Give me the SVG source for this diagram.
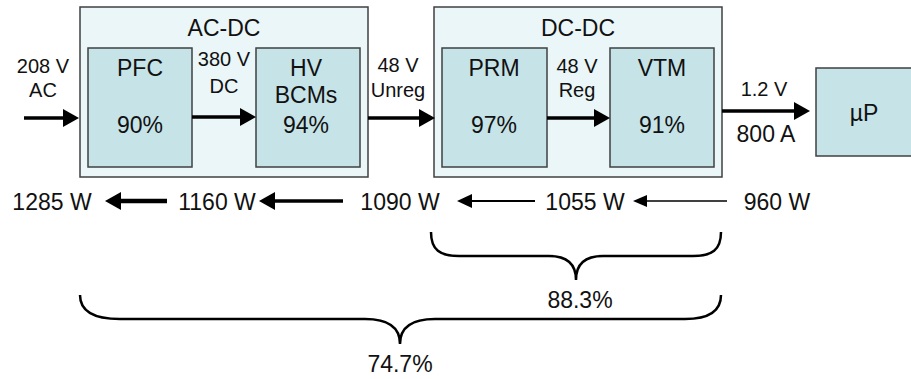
<svg xmlns="http://www.w3.org/2000/svg" width="911" height="379" viewBox="0 0 911 379">
<defs>
<style>
text{font-family:"Liberation Sans",Arial,sans-serif;fill:#111;text-anchor:middle}
.t22{font-size:23px}
.t20{font-size:20px}
.outer{fill:#eaf6f7;stroke:#404040;stroke-width:1.5}
.inner{fill:#c6e3e8;stroke:#404040;stroke-width:1.5}
.ln{stroke:#000;fill:none}
.brace{stroke:#000;fill:none;stroke-width:2.5}
</style>
<marker id="hL" markerUnits="userSpaceOnUse" markerWidth="16" markerHeight="18" refX="0" refY="9" orient="auto"><path d="M0,0 L16,9 L0,18 z" fill="#000"/></marker>
<marker id="hM" markerUnits="userSpaceOnUse" markerWidth="15" markerHeight="14" refX="0" refY="7" orient="auto"><path d="M0,0 L15,7 L0,14 z" fill="#000"/></marker>
<marker id="hS" markerUnits="userSpaceOnUse" markerWidth="14" markerHeight="12" refX="0" refY="6" orient="auto"><path d="M0,0 L14,6 L0,12 z" fill="#000"/></marker>
</defs>
<rect width="911" height="379" fill="#fff"/>

<g id="acdc">
<rect class="outer" x="80" y="7" width="288" height="170"/>
<text class="t22" x="224" y="36">AC-DC</text>
</g>
<g id="dcdc">
<rect class="outer" x="434" y="7" width="288" height="170"/>
<text class="t22" x="578" y="36">DC-DC</text>
</g>
<g id="pfc">
<rect class="inner" x="88" y="48" width="104" height="119"/>
<text class="t22" x="140" y="76">PFC</text>
<text class="t22" x="140" y="133">90%</text>
</g>
<g id="hvbcm">
<rect class="inner" x="256" y="48" width="104" height="119"/>
<text class="t22" x="306" y="76">HV</text>
<text class="t22" x="306" y="103">BCMs</text>
<text class="t22" x="306" y="133">94%</text>
</g>
<g id="prm">
<rect class="inner" x="442" y="48" width="105" height="119"/>
<text class="t22" x="494" y="76">PRM</text>
<text class="t22" x="494" y="133">97%</text>
</g>
<g id="vtm">
<rect class="inner" x="610" y="48" width="104" height="119"/>
<text class="t22" x="662" y="76">VTM</text>
<text class="t22" x="662" y="133">91%</text>
</g>
<g id="up">
<rect class="inner" x="816" y="68" width="100" height="88"/>
<text class="t22" x="864" y="121">µP</text>
</g>

<g id="connectors">
<path class="ln" stroke-width="3.5" d="M24,118 H63" marker-end="url(#hL)"/>
<path class="ln" stroke-width="3.5" d="M192,117 H240" marker-end="url(#hL)"/>
<path class="ln" stroke-width="3.5" d="M368,118 H419" marker-end="url(#hL)"/>
<path class="ln" stroke-width="3.5" d="M547,118 H594" marker-end="url(#hL)"/>
<path class="ln" stroke-width="3.5" d="M722,111 H794" marker-end="url(#hL)"/>

<path class="ln" stroke-width="4.5" d="M167,201 H121" marker-end="url(#hL)"/>
<path class="ln" stroke-width="3.5" d="M343,201 H275" marker-end="url(#hL)"/>
<path class="ln" stroke-width="2.2" d="M535,201 H472" marker-end="url(#hM)"/>
<path class="ln" stroke-width="1.5" d="M727,201 H647" marker-end="url(#hS)"/>
</g>

<g id="labels">
<text class="t20" x="43" y="73">208 V</text>
<text class="t20" x="43" y="97">AC</text>
<text class="t20" x="224" y="66">380 V</text>
<text class="t20" x="224" y="93">DC</text>
<text class="t20" x="398" y="72">48 V</text>
<text class="t20" x="398" y="97">Unreg</text>
<text class="t20" x="577" y="73">48 V</text>
<text class="t20" x="577" y="97">Reg</text>
<text class="t20" x="764" y="96">1.2 V</text>
<text class="t22" x="766" y="142">800 A</text>

<text class="t22" x="52" y="210">1285 W</text>
<text class="t22" x="217" y="210">1160 W</text>
<text class="t22" x="400" y="210">1090 W</text>
<text class="t22" x="585" y="210">1055 W</text>
<text class="t22" x="777" y="210">960 W</text>
</g>

<g id="braces">
<path class="brace" d="M431,232 C431,250 440,256 459,256 L549,256 C566,256 576,263 576,280 C576,263 586,256 603,256 L693,256 C712,256 721,250 721,232"/>
<text class="t22" x="580" y="308">88.3%</text>
<path class="brace" d="M80,295 C80,312 95,319 120,319 L365,319 C388,319 400,327 400,344 C400,327 412,319 435,319 L685,319 C708,319 721,312 721,295"/>
<text class="t22" x="400" y="372">74.7%</text>
</g>
</svg>
